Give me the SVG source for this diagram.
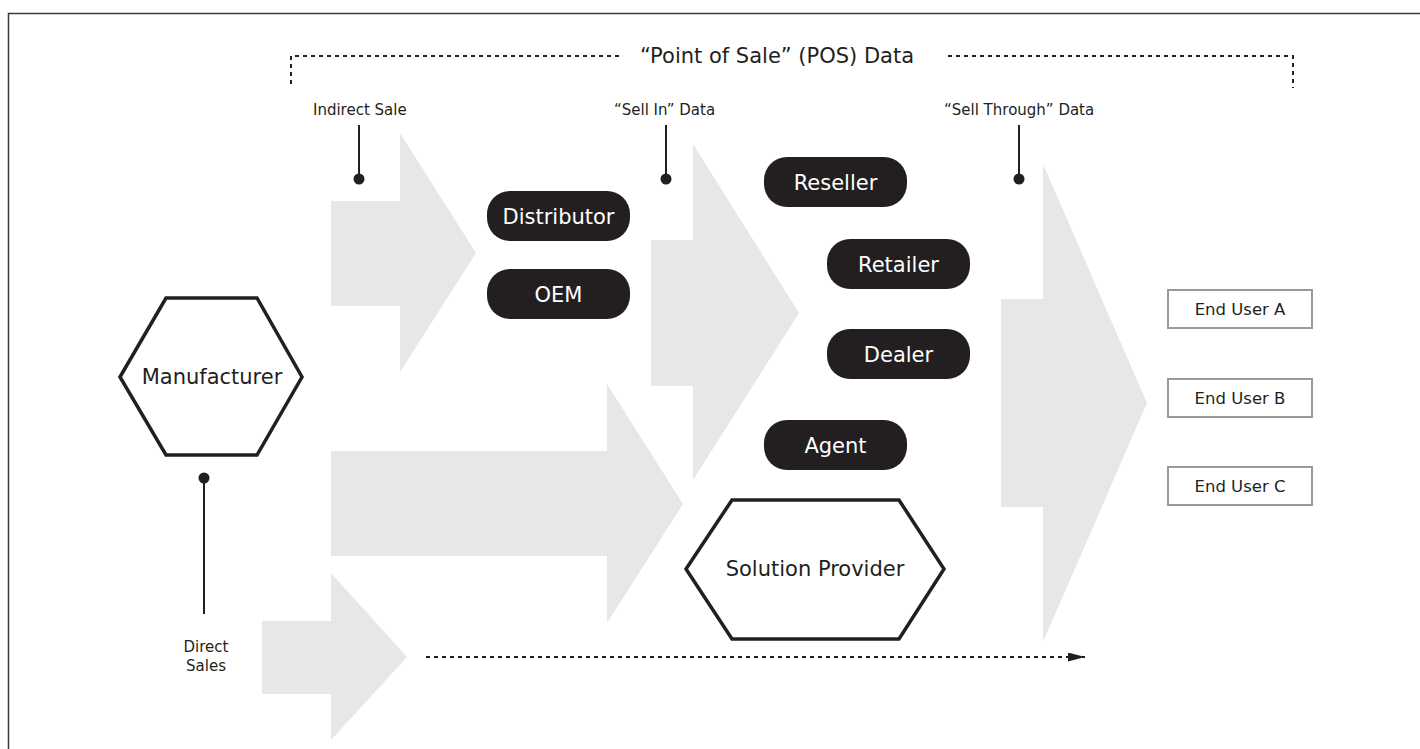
<svg xmlns="http://www.w3.org/2000/svg" width="1420" height="749" viewBox="0 0 1420 749">
<defs>
<style>
.flow{fill:#e6e7e8}
.pill rect{fill:#231f20}
.pill text{fill:#fff;font-family:"DejaVu Sans",sans-serif;font-size:21px;text-anchor:middle}
.hex polygon{fill:#fff;stroke:#231f20;stroke-width:3.5;stroke-linejoin:miter}
.hex text{fill:#231f20;font-family:"DejaVu Sans",sans-serif;font-size:21px;text-anchor:middle}
.user rect{fill:#fff;stroke:#9a9a9a;stroke-width:2}
.user text{fill:#231f20;font-family:"DejaVu Sans",sans-serif;font-size:16.5px;text-anchor:middle}
.lbl{fill:#231f20;font-family:"DejaVu Sans",sans-serif;font-size:15px}
.head{fill:#231f20;font-family:"DejaVu Sans",sans-serif;font-size:21px;text-anchor:middle}
.pin{stroke:#231f20;stroke-width:2;fill:none}
.dot{fill:#231f20}
.dash{stroke:#231f20;stroke-width:2;fill:none;stroke-dasharray:4 4}
</style>
<marker id="ah" viewBox="0 0 10 10" refX="10" refY="5" markerWidth="8.5" markerHeight="4.5" markerUnits="strokeWidth" orient="auto" preserveAspectRatio="none">
<path d="M0,0 L10,5 L0,10 z" fill="#231f20"/>
</marker>
</defs>
<rect width="1420" height="749" fill="#fff"/>
<path d="M8.5,749 V13.5 H1420" fill="none" stroke="#3a3a3a" stroke-width="1.5"/>

<g id="flows">
<polygon class="flow" points="331,201 400,201 400,133 476,253 400,372 400,306 331,306"/>
<polygon class="flow" points="651,240 693,240 693,144 799,313 693,480 693,386 651,386"/>
<polygon class="flow" points="331,451 607,451 607,384 683,504 607,623 607,556 331,556"/>
<polygon class="flow" points="262,621 331,621 331,573 407,657 331,740 331,694 262,694"/>
<polygon class="flow" points="1001,299 1043,299 1043,164 1147,403 1043,642 1043,507 1001,507"/>
</g>

<g id="connectors">
<path class="dash" d="M291,84 V56 H620"/>
<path class="dash" d="M948,56 H1293 V88"/>
<line class="pin" x1="359" y1="125" x2="359" y2="179"/><circle class="dot" cx="359" cy="179" r="5.5"/>
<line class="pin" x1="666" y1="125" x2="666" y2="179"/><circle class="dot" cx="666" cy="179" r="5.5"/>
<line class="pin" x1="1019" y1="125" x2="1019" y2="179"/><circle class="dot" cx="1019" cy="179" r="5.5"/>
<line class="pin" x1="204" y1="478" x2="204" y2="614"/><circle class="dot" cx="204" cy="478" r="5.5"/>
<line class="dash" x1="426" y1="657" x2="1085" y2="657" marker-end="url(#ah)"/>
</g>

<g id="labels">
<text class="head" x="777" y="63">“Point of Sale” (POS) Data</text>
<text class="lbl" x="313" y="115">Indirect Sale</text>
<text class="lbl" x="614" y="115">“Sell In” Data</text>
<text class="lbl" x="944" y="115">“Sell Through” Data</text>
<text class="lbl" x="206" y="652" text-anchor="middle">Direct</text>
<text class="lbl" x="206" y="671" text-anchor="middle">Sales</text>
</g>

<g id="manufacturer" class="hex">
<polygon points="120,377 166,298 257,298 302,377 257,455 166,455"/>
<text x="212" y="384">Manufacturer</text>
</g>
<g id="distributor" class="pill"><rect x="487" y="191" width="143" height="50" rx="23"/><text x="558.5" y="223.5">Distributor</text></g>
<g id="oem" class="pill"><rect x="487" y="269" width="143" height="50" rx="23"/><text x="558.5" y="301.5">OEM</text></g>
<g id="reseller" class="pill"><rect x="764" y="157" width="143" height="50" rx="23"/><text x="835.5" y="189.5">Reseller</text></g>
<g id="retailer" class="pill"><rect x="827" y="239" width="143" height="50" rx="23"/><text x="898.5" y="271.5">Retailer</text></g>
<g id="dealer" class="pill"><rect x="827" y="329" width="143" height="50" rx="23"/><text x="898.5" y="361.5">Dealer</text></g>
<g id="agent" class="pill"><rect x="764" y="420" width="143" height="50" rx="23"/><text x="835.5" y="452.5">Agent</text></g>
<g id="solution-provider" class="hex">
<polygon points="686,569 732,500 899,500 944,569 899,639 732,639"/>
<text x="815" y="576">Solution Provider</text>
</g>
<g id="end-user-a" class="user"><rect x="1168" y="290" width="144" height="38"/><text x="1240" y="315">End User A</text></g>
<g id="end-user-b" class="user"><rect x="1168" y="379" width="144" height="38"/><text x="1240" y="404">End User B</text></g>
<g id="end-user-c" class="user"><rect x="1168" y="467" width="144" height="38"/><text x="1240" y="492">End User C</text></g>
</svg>
